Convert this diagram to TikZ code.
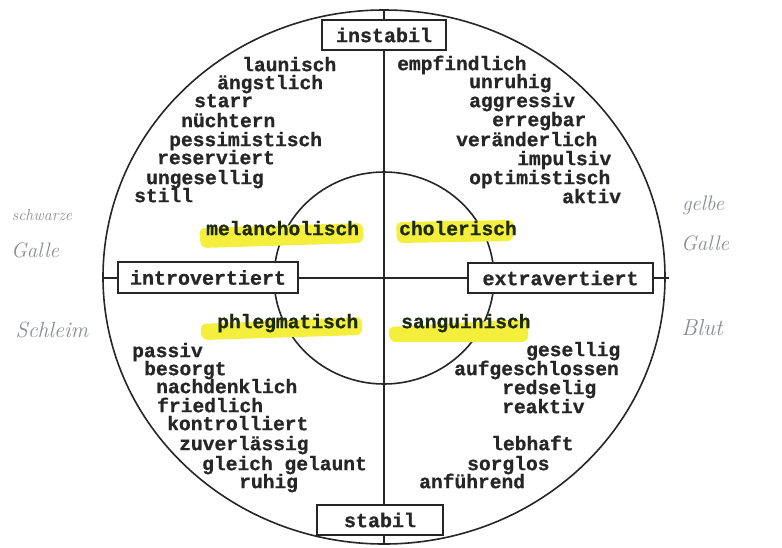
\documentclass[tikz,border=0pt]{standalone}
\usepackage{fontspec}
\newfontfamily\cour{Liberation Mono}[BoldFeatures={FakeBold=0.8}]
\definecolor{ink}{HTML}{262626}
\definecolor{hlink}{HTML}{1E2A0C}
\definecolor{hl}{HTML}{F4EE3C}
\definecolor{pencil}{HTML}{8A8C98}
\tikzset{
  word/.style={anchor=mid west, inner sep=0pt, yshift=-3pt, text height=0.55em, text depth=0.1em, text=ink, font=\cour\bfseries\fontsize{19.6}{19.6}\selectfont},
  typeword/.style={word, text=hlink},
  axisbox/.style={draw=ink, line width=1.6pt, fill=white, inner sep=0pt, text=ink, font=\cour\bfseries\fontsize{20}{20}\selectfont},
  axisline/.style={draw=ink, line width=1.6pt},
  hand/.style={inner sep=0pt, text=pencil, font=\itshape\fontsize{21}{21}\selectfont},
  hlstroke/.style={fill=hl, rounded corners=6pt},
}
\begin{document}
\begin{tikzpicture}[x=1pt, y=-1pt]
\useasboundingbox (0,0) rectangle (782,547);
% circles
\draw[axisline] (384,277) ellipse [x radius=281, y radius=267];
\draw[axisline] (384,278) ellipse [x radius=110, y radius=106];
% axes
\coordinate (top) at (384,10);
\coordinate (bot) at (384,544);
\coordinate (lft) at (103,278);
\coordinate (rgt) at (669,278);
\draw[axisline] (top) -- (bot);
\draw[axisline] (lft) -- (rgt);
% highlights
\fill[hlstroke] (199,228) -- (363,223) -- (363,243) -- (201,248) -- cycle;
\fill[hlstroke] (396,222) -- (514,220) -- (513,241) -- (397,243) -- cycle;
\fill[hlstroke] (200,324) -- (362,317) -- (362,335) -- (202,340) -- cycle;
\fill[hlstroke] (388,327) -- (528,319) -- (528,342) -- (390,342) -- cycle;
% axis boxes
\node[axisbox, minimum width=124pt, minimum height=30pt] (instabil) at (384,35) {instabil};
\node[axisbox, minimum width=180pt, minimum height=31pt] (intro) at (208,277.5) {introvertiert};
\node[axisbox, minimum width=185pt, minimum height=30pt] (extra) at (560.5,278) {extravertiert};
\node[axisbox, minimum width=126pt, minimum height=30pt] (stabil) at (380,520) {stabil};
% temperaments
\node[typeword] (mel) at (206,230) {melancholisch};
\node[typeword] (cho) at (399,230) {cholerisch};
\node[typeword] (phl) at (217,323) {phlegmatisch};
\node[typeword] (san) at (401,323) {sanguinisch};
% upper left
\node[word] (ul1) at (242,66) {launisch};
\node[word] (ul2) at (217,84) {ängstlich};
\node[word] (ul3) at (194,102) {starr};
\node[word] (ul4) at (181,122) {nüchtern};
\node[word] (ul5) at (169,141) {pessimistisch};
\node[word] (ul6) at (157,159) {reserviert};
\node[word] (ul7) at (146,179) {ungesellig};
\node[word] (ul8) at (134,197) {still};
% upper right
\node[word] (ur1) at (397,65) {empfindlich};
\node[word] (ur2) at (469,83) {unruhig};
\node[word] (ur3) at (469,102) {aggressiv};
\node[word] (ur4) at (492,121) {erregbar};
\node[word] (ur5) at (456,141) {veränderlich};
\node[word] (ur6) at (517,160) {impulsiv};
\node[word] (ur7) at (469,179) {optimistisch};
\node[word] (ur8) at (562,198) {aktiv};
% lower left
\node[word] (ll1) at (132,352) {passiv};
\node[word] (ll2) at (144,370) {besorgt};
\node[word] (ll3) at (156,388) {nachdenklich};
\node[word] (ll4) at (157,407) {friedlich};
\node[word] (ll5) at (167,425) {kontrolliert};
\node[word] (ll6) at (179,445) {zuverlässig};
\node[word] (ll7) at (202,465) {gleich gelaunt};
\node[word] (ll8) at (239,483) {ruhig};
% lower right
\node[word] (lr1) at (526,351) {gesellig};
\node[word] (lr2) at (454,370) {aufgeschlossen};
\node[word] (lr3) at (502,389) {redselig};
\node[word] (lr4) at (502,408) {reaktiv};
\node[word] (lr5) at (491,445) {lebhaft};
\node[word] (lr6) at (467,465) {sorglos};
\node[word] (lr7) at (419,483) {anführend};
% handwritten notes
\node[hand, font=\itshape\fontsize{16}{16}\selectfont] (h1) at (42,215) {schwarze};
\node[hand] (h2) at (35,250) {Galle};
\node[hand, font=\itshape\fontsize{22}{22}\selectfont] (h3) at (52,330) {Schleim};
\node[hand] (h4) at (703,205) {gelbe};
\node[hand] (h5) at (705,243) {Galle};
\node[hand, font=\itshape\fontsize{23}{23}\selectfont] (h6) at (702,328) {Blut};
\end{tikzpicture}
\end{document}
